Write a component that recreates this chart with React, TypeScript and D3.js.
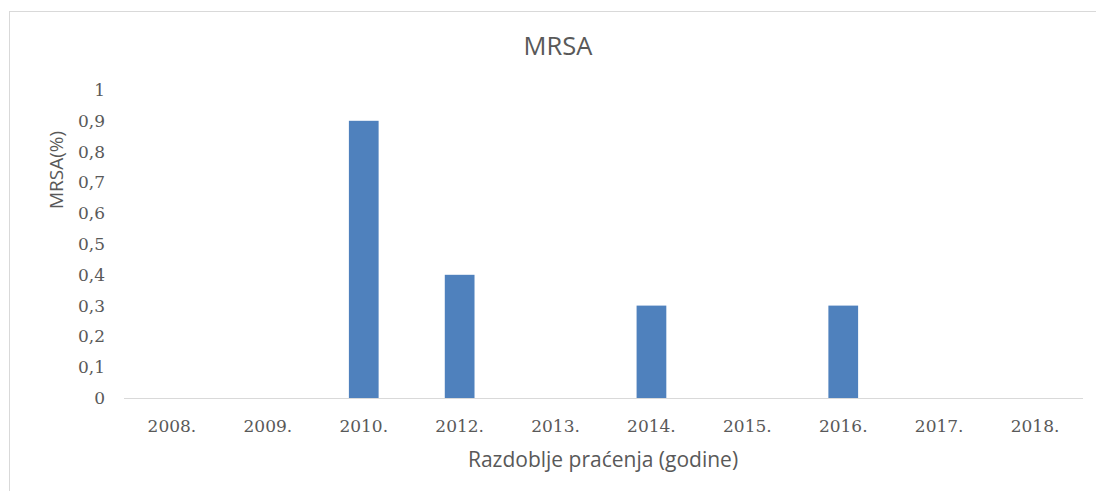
import React from "react";
import * as d3 from "d3";

const categories = ["2008.", "2009.", "2010.", "2012.", "2013.", "2014.", "2015.", "2016.", "2017.", "2018."];
const values = [0, 0, 0.9, 0.4, 0, 0.3, 0, 0.3, 0, 0];
const yTicks = [0, 0.1, 0.2, 0.3, 0.4, 0.5, 0.6, 0.7, 0.8, 0.9, 1];
const title = "MRSA";
const xTitle = "Razdoblje praćenja (godine)";
const yTitle = "MRSA(%)";

const W = 1096;
const H = 491;
const left = 124;
const right = 1083;
const top = 90;
const bottom = 398;

export default function App() {
  const x = d3.scaleBand<string>().domain(categories).range([left, right]).paddingInner(0.69).paddingOuter(0.345);
  const y = d3.scaleLinear().domain([0, 1]).range([bottom, top]);
  const fmt = (v: number) => d3.format("~g")(v).replace(".", ",");
  const textColor = "#595959";
  return (
    <svg width={W} height={H} style={{ position: "absolute", left: 0, top: 0, background: "#fff" }}>
      <rect x={9.5} y={11.5} width={W + 20} height={H + 20} fill="#fff" stroke="#d9d9d9" strokeWidth={1} />
      <text x={558} y={55} textAnchor="middle" fontFamily="Open Sans" fontSize={25.5} fill={textColor}>{title}</text>
      {yTicks.map((t) => (
        <text key={t} x={105} y={y(t)} dy="0.35em" textAnchor="end" fontFamily="DejaVu Serif" fontSize={17} fill={textColor}>{fmt(t)}</text>
      ))}
      <line x1={left} x2={right} y1={bottom + 0.5} y2={bottom + 0.5} stroke="#d9d9d9" strokeWidth={1} />
      {categories.map((c, i) => (
        <rect key={c} x={x(c)} y={y(values[i])} width={x.bandwidth()} height={bottom - y(values[i])} fill="#4f81bd" />
      ))}
      {categories.map((c) => (
        <text key={c} x={(x(c) as number) + x.bandwidth() / 2} y={432} textAnchor="middle" fontFamily="DejaVu Serif" fontSize={17} fill={textColor}>{c}</text>
      ))}
      <text x={603} y={467} textAnchor="middle" fontFamily="Open Sans" fontSize={21} fill={textColor}>{xTitle}</text>
      <text transform="translate(63,170) rotate(-90)" textAnchor="middle" fontFamily="Open Sans" fontSize={19} fill={textColor}>{yTitle}</text>
    </svg>
  );
}
